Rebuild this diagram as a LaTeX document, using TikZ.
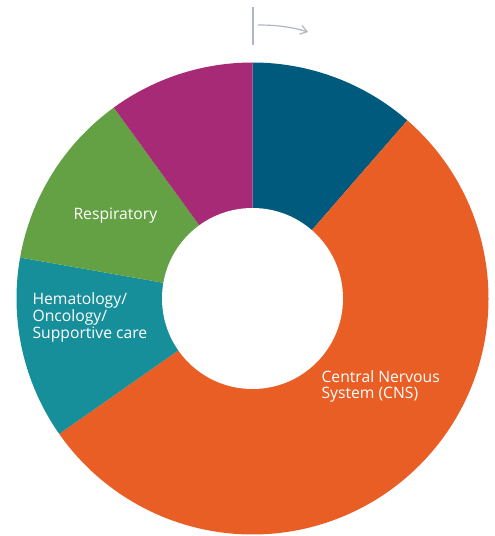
\documentclass[tikz,border=0pt]{standalone}
\usepackage{fontspec}
\setmainfont{Open Sans}
\usepackage{tikz}
\usetikzlibrary{calc,arrows.meta}

\definecolor{segblue}{HTML}{005A7D}
\definecolor{segorange}{HTML}{E95E25}
\definecolor{segteal}{HTML}{178F9B}
\definecolor{seggreen}{HTML}{63A144}
\definecolor{segmagenta}{HTML}{A72A76}
\definecolor{markgray}{HTML}{AEB7BF}

\begin{document}
\begin{tikzpicture}[x=1pt,y=1pt]
  \def\R{236}     % outer radius
  \def\r{90.5}    % inner radius (hole)
  \def\cx{252.5}  % centre of the ring
  \def\cy{237.5}

  \useasboundingbox (0,0) rectangle (495,536);

  % Wedges, clockwise from the top
  \foreach \a/\b/\c in {90/49/segblue, 49/-145/segorange, 215/170/segteal,
                        170/126/seggreen, 126/90/segmagenta}
    \fill[\c] (\cx,\cy) -- ++(\a:\R) arc[start angle=\a, end angle=\b, radius=\R] -- cycle;

  % Hole
  \fill[white] (\cx,\cy) circle[radius=\r];

  % Start mark and direction
  \coordinate (tick top) at (253,529);
  \coordinate (tick bot) at (253,491);
  \coordinate (turn from) at (258,511);
  \coordinate (turn to) at (308,504);
  \draw[markgray, line width=1.3pt] (tick top) -- (tick bot);
  \draw[markgray, line width=1.2pt, -{Straight Barb[angle=70:8pt]}]
    (turn from) .. controls (284,511) and (298,507) .. (turn to);

  % Labels
  \node[white, font=\fontsize{15.7}{16.8}\selectfont, anchor=west] (resp) at (70,320) {Respiratory};
  \node[white, font=\fontsize{15.7}{16.8}\selectfont, anchor=west, align=left] (hema) at (29,218.5)
    {Hematology/\\Oncology/\\Supportive care};
  \node[white, font=\fontsize{15.7}{16.8}\selectfont, anchor=west, align=left] (cns) at (318,149.5)
    {Central Nervous\\System (CNS)};
\end{tikzpicture}
\end{document}
